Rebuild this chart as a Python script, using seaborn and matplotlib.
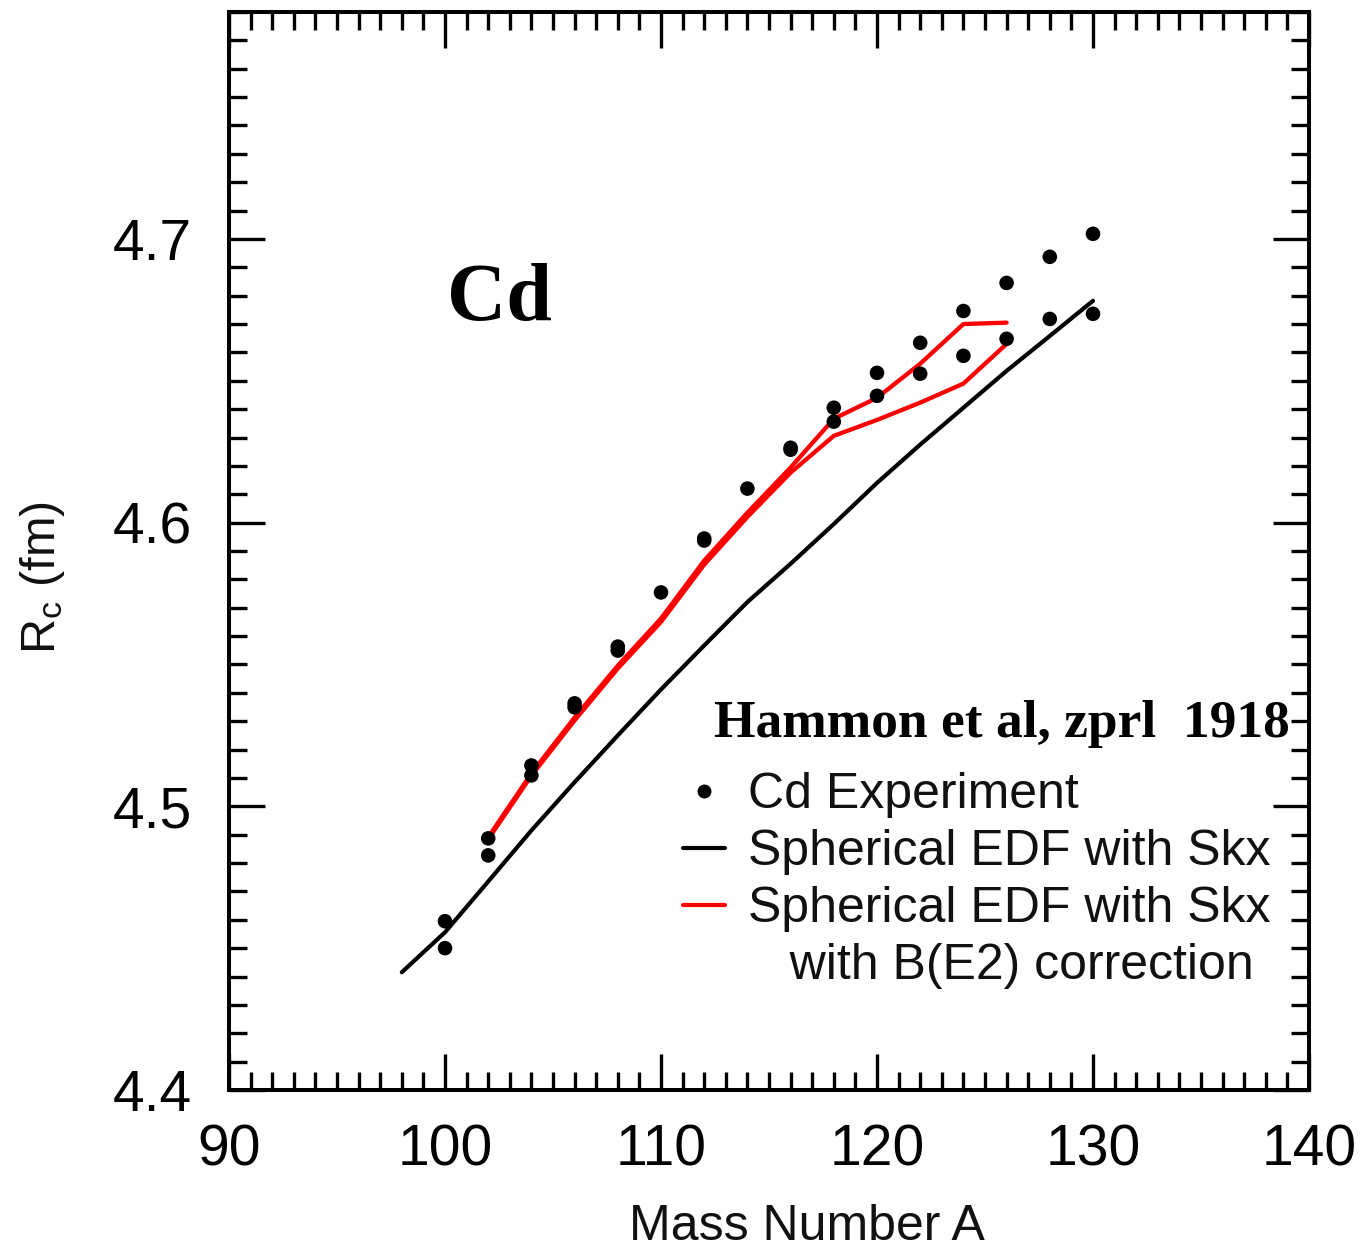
import numpy as np
import pandas as pd
import matplotlib
matplotlib.use("Agg")
import matplotlib.pyplot as plt
import seaborn as sns
from matplotlib.lines import Line2D
from matplotlib.ticker import MultipleLocator, FixedLocator

# ---------------- data ----------------
exp_A = [100, 100, 102, 102, 104, 104, 106, 106, 108, 108, 110, 112, 112, 114,
         116, 116, 118, 118, 120, 120, 122, 122, 124, 124, 126, 126, 128, 128, 130, 130]
exp_R = [4.4595, 4.4500, 4.4887, 4.4827, 4.5144, 4.5109, 4.5363, 4.5349, 4.5563, 4.5549,
         4.5754, 4.5944, 4.5937, 4.6120, 4.6264, 4.6257, 4.6405, 4.6356, 4.6528, 4.6447,
         4.6634, 4.6525, 4.6746, 4.6588, 4.6845, 4.6648, 4.6937, 4.6718, 4.7018, 4.6736]

skx_A = [98, 100, 102, 104, 106, 108, 110, 112, 114, 116, 118, 120, 122, 124, 126, 128, 130]
skx_R = [4.4415, 4.4556, 4.4735, 4.4915, 4.5085, 4.5250, 4.5412, 4.5567, 4.5720, 4.5855,
         4.5995, 4.6140, 4.6275, 4.6405, 4.6535, 4.6658, 4.6782]

be2_upper_A = [102, 104, 106, 108, 110, 112, 114, 116, 118, 120, 122, 124, 126]
be2_upper_R = [4.4891, 4.5116, 4.5313, 4.5496, 4.5662, 4.5866, 4.6035, 4.6194, 4.6366,
               4.6440, 4.6560, 4.6700, 4.6705]
be2_lower_A = [102, 104, 106, 108, 110, 112, 114, 116, 118, 120, 122, 124, 126]
be2_lower_R = [4.4884, 4.5108, 4.5303, 4.5486, 4.5650, 4.5852, 4.6020, 4.6176, 4.6306,
               4.6362, 4.6423, 4.6490, 4.6630]

legend_labels = ["Cd Experiment", "Spherical EDF with Skx",
                 "Spherical EDF with Skx", "   with B(E2) correction"]
x_ticks = [90, 100, 110, 120, 130, 140]
y_ticks = [4.4, 4.5, 4.6, 4.7]

# ---------------- style ----------------
sns.set_theme(style="ticks")
plt.rcParams["font.family"] = ["Liberation Sans", "DejaVu Sans"]
plt.rcParams["mathtext.fontset"] = "custom"
plt.rcParams["mathtext.rm"] = "Liberation Sans"
plt.rcParams["mathtext.it"] = "Liberation Sans:italic"
plt.rcParams["text.color"] = "black"
plt.rcParams["axes.labelcolor"] = "black"

fig = plt.figure(figsize=(13.69, 12.49), dpi=100)
ax = fig.add_axes([229 / 1369, 1 - 1090 / 1249, 1080 / 1369, 1078 / 1249])

df_exp = pd.DataFrame({"A": exp_A, "R": exp_R})
df_skx = pd.DataFrame({"A": skx_A, "R": skx_R})
df_up = pd.DataFrame({"A": be2_upper_A, "R": be2_upper_R})
df_lo = pd.DataFrame({"A": be2_lower_A, "R": be2_lower_R})

sns.lineplot(data=df_skx, x="A", y="R", ax=ax, color="black", lw=3.0, sort=False,
             estimator=None)
sns.lineplot(data=df_up, x="A", y="R", ax=ax, color="#ff0000", lw=3.1, sort=False,
             estimator=None)
sns.lineplot(data=df_lo, x="A", y="R", ax=ax, color="#ff0000", lw=3.1, sort=False,
             estimator=None)
sns.scatterplot(data=df_exp, x="A", y="R", ax=ax, color="black", s=110,
                edgecolor="none", zorder=5)

ax.set_xlim(90, 140)
ax.set_ylim(4.4, 4.78)
ax.xaxis.set_major_locator(FixedLocator(x_ticks))
ax.yaxis.set_major_locator(FixedLocator(y_ticks))
ax.set_xticklabels([str(t) for t in x_ticks])
ax.set_yticklabels([f"{t:.1f}" for t in y_ticks])
ax.xaxis.set_minor_locator(MultipleLocator(1))
ax.yaxis.set_minor_locator(MultipleLocator(0.01))

ax.tick_params(which="both", direction="in", top=True, right=True,
               colors="black", labelcolor="black", width=2.4)
ax.tick_params(which="major", length=26, labelsize=41)
ax.tick_params(axis="x", which="major", pad=24)
ax.tick_params(axis="y", which="major", pad=27)
ax.tick_params(which="minor", length=13)
for sp in ax.spines.values():
    sp.set_linewidth(2.9)
    sp.set_color("black")

ax.set_xlabel("Mass Number A", fontsize=36, color="#111111")
ax.set_ylabel("R$_{\\rm c}$ (fm)", fontsize=35, color="#111111")
ax.xaxis.set_label_coords((807 - 229) / 1080, -(1250 - 1090) / 1078)
ax.yaxis.set_label_coords(-(229 - 18) / 1080, (1090 - 578) / 1078)
ax.xaxis.label.set_va("bottom")
ax.yaxis.label.set_va("top")

ax.text(0.2019, 0.714, "Cd", transform=ax.transAxes, fontsize=59,
        fontweight="bold", family=["Liberation Serif"], va="baseline", ha="left",
        color="black")
ax.text(0.4495, 0.3275, "Hammon et al, zprl  1918", transform=ax.transAxes,
        fontsize=38.5, fontweight="bold", family=["Liberation Serif"],
        va="baseline", ha="left", color="black")

handles = [
    Line2D([], [], ls="none", marker="o", color="black", markersize=9),
    Line2D([], [], color="black", lw=3.0),
    Line2D([], [], color="#ff0000", lw=3.0),
    Line2D([], [], ls="none", marker=None, color="none"),
]
leg = ax.legend(handles, legend_labels, loc="upper left",
                bbox_to_anchor=((683 - 229) / 1080, (1090 - 772) / 1078),
                frameon=False, fontsize=36, handlelength=0.83,
                handletextpad=0.48, labelspacing=0.22, borderpad=0,
                borderaxespad=0)
for t in leg.get_texts():
    t.set_color("#111111")

fig.savefig("out.png", dpi=100)
